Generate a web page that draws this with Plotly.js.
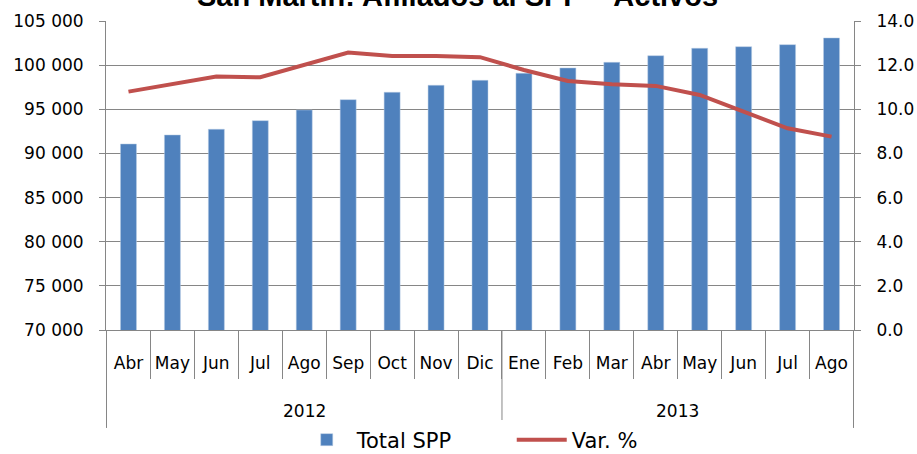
<!DOCTYPE html>
<html><head><meta charset="utf-8">
<script src="https://cdn.plot.ly/plotly-3.0.1.min.js"></script>
<style>html,body{margin:0;padding:0;background:#fff}</style>
</head><body>
<div id="chart" style="width:917px;height:454px"></div>
<script>
const years = ["2012","2012","2012","2012","2012","2012","2012","2012","2012","2013","2013","2013","2013","2013","2013","2013","2013"];
const months = ["Abr","May","Jun","Jul","Ago","Sep","Oct","Nov","Dic","Ene","Feb","Mar","Abr","May","Jun","Jul","Ago"];
const totalSPP = [91070,92090,92740,93710,94920,96090,96930,97720,98280,99080,99680,100320,101070,101910,102090,102320,103080];
const varPct = [10.80,11.15,11.48,11.45,12.00,12.57,12.41,12.41,12.36,11.78,11.28,11.13,11.06,10.65,9.89,9.14,8.76];

const FONT = "DejaVu Sans, sans-serif";
const GRID = "#868686";
const cats = months.map((m, i) => m + " " + years[i]);

// group boundaries for year labels and dividers
const groups = [];
years.forEach((y, i) => {
  if (!groups.length || groups[groups.length - 1].year !== y) groups.push({year: y, start: i, end: i});
  else groups[groups.length - 1].end = i;
});
const annotations = groups.map(g => ({
  text: g.year, xref: "x", x: (g.start + g.end) / 2, yref: "paper", y: -0.262,
  yanchor: "middle", xanchor: "center", showarrow: false, font: {family: FONT, size: 17, color: "#000"}
}));
annotations.push({
  text: "<b>San Martín: Afiliados al SPP – Activos</b>", xref: "paper", x: 0.47, yref: "paper", y: 1,
  yanchor: "bottom", xanchor: "center", yshift: 7, showarrow: false,
  font: {family: "Liberation Sans, Arial, sans-serif", size: 29, color: "#000"}
});
const bounds = [groups[0].start - 0.5].concat(groups.map(g => g.end + 0.5));
const shapes = bounds.map(b => ({
  type: "line", xref: "x", x0: b, x1: b, yref: "paper", y0: 0, y1: -0.317,
  line: {color: GRID, width: 1}
}));

const data = [
  {type:"bar", name:"Total SPP", x:cats, y:totalSPP,
   marker:{color:"#4F81BD", line:{color:"#B9CDE5", width:0.5}}},
  {type:"scatter", mode:"lines", name:"Var. %", x:cats, y:varPct, yaxis:"y2",
   line:{color:"#C0504D", width:4}}
];
const layout = {
  width:917, height:454,
  margin:{l:106, r:63, t:21, b:124, autoexpand:false},
  paper_bgcolor:"#fff", plot_bgcolor:"#fff",
  separators:". ",
  font:{family:FONT, size:17, color:"#000"},
  bargap:0.636,
  showlegend:true,
  legend:{orientation:"h", x:0.255, xanchor:"left", y:-0.356, yanchor:"middle", font:{size:21},
          entrywidth:150, itemwidth:50, traceorder:"normal"},
  annotations: annotations,
  shapes: shapes,
  xaxis:{type:"category", tickvals:cats, ticktext:months, tickangle:0, showline:true, linecolor:GRID, linewidth:1,
         ticks:"outside", tickson:"boundaries", ticklen:48, tickcolor:GRID, ticklabelstandoff:18,
         showgrid:false, automargin:false, tickfont:{size:17}},
  yaxis:{range:[70000,105000], dtick:5000, tickformat:",.0f", showgrid:true, gridcolor:GRID, gridwidth:1,
         showline:true, linecolor:GRID, ticks:"outside", ticklen:6, tickcolor:GRID, zeroline:false,
         automargin:false, ticklabelstandoff:12, tickfont:{size:17}},
  yaxis2:{range:[0,14], dtick:2, tickformat:".1f", overlaying:"y", side:"right", showgrid:false,
          showline:true, linecolor:GRID, ticks:"outside", ticklen:6, tickcolor:GRID, zeroline:false,
          automargin:false, ticklabelstandoff:12, tickfont:{size:17}}
};
Plotly.newPlot("chart", data, layout, {displayModeBar:false, staticPlot:true});
</script>
</body></html>
